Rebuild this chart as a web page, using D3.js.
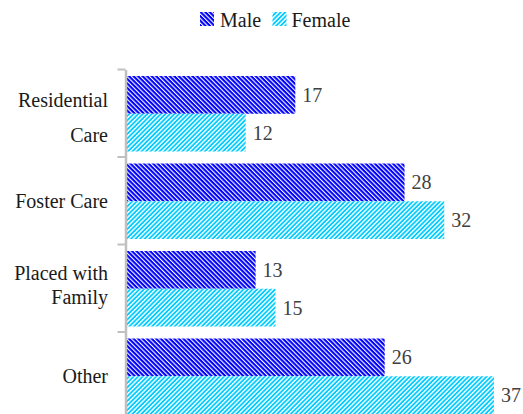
<!DOCTYPE html>
<html>
<head>
<meta charset="utf-8">
<script src="https://cdn.jsdelivr.net/npm/d3@7"></script>
<style>
  html, body { margin: 0; padding: 0; background: #fff; }
  svg { display: block; }
  svg text { font-family: "Liberation Serif", Tinos, serif !important; }
</style>
</head>
<body>
<svg id="fig" width="523" height="414"></svg>
<script>
// ---- data ----
const categories = ["Residential Care", "Foster Care", "Placed with Family", "Other"];
const categoryLines = [["Residential", "Care"], ["Foster Care"], ["Placed with", "Family"], ["Other"]];
const seriesNames = ["Male", "Female"];
const maleValues = [17, 28, 13, 26];
const femaleValues = [12, 32, 15, 37];
const xDomain = [0, 40];

// ---- layout / style ----
const plotLeft = 126.5, plotRight = 523.7;
const plotTop = 69.5, plotBottom = 419.5;
const lineGaps = [35, 0, 24, 0];
const lineShifts = [4, 0, -3, 0];
const fontSize = 20;
const FONT_STYLE = "font-family: \"Liberation Serif\", Tinos, serif !important; font-size: " + fontSize + "px;";

const svg = d3.select("#fig");
const defs = svg.append("defs");

function makePattern(id, bg, fg, angle, stripeW) {
  const p = defs.append("pattern")
    .attr("id", id).attr("patternUnits", "userSpaceOnUse")
    .attr("width", 3.2).attr("height", 3.2)
    .attr("patternTransform", `rotate(${angle})`);
  p.append("rect").attr("width", 3.2).attr("height", 3.2).attr("fill", bg);
  p.append("rect").attr("width", stripeW).attr("height", 3.2).attr("fill", fg);
}
makePattern("pMale", "#0000ff", "#ffffff", -45, 1.1);
makePattern("pFemale", "#00ccff", "#ffffff", 45, 1.4);

const fills = { Male: "url(#pMale)", Female: "url(#pFemale)" };

const x = d3.scaleLinear().domain(xDomain).range([plotLeft, plotRight]);
const y = d3.scaleBand().domain(categories).range([plotTop, plotBottom]).paddingInner(0).paddingOuter(0);
const yInner = d3.scaleBand().domain(seriesNames).range([6.5, y.bandwidth() - 5.5]);

const rows = categories.map((c, i) => ({ cat: c, lines: categoryLines[i], gap: lineGaps[i], shift: lineShifts[i], Male: maleValues[i], Female: femaleValues[i] }));

// bars
const g = svg.append("g");
rows.forEach(row => {
  seriesNames.forEach(s => {
    g.append("rect")
      .attr("x", x(0))
      .attr("y", y(row.cat) + yInner(s))
      .attr("width", x(row[s]) - x(0))
      .attr("height", yInner.bandwidth())
      .attr("fill", fills[s]);
    g.append("text")
      .attr("x", x(row[s]) + 7)
      .attr("y", y(row.cat) + yInner(s) + yInner.bandwidth() / 2)
      .attr("dy", "0.35em")
      .attr("style", FONT_STYLE)
      .attr("fill", "#404040")
      .text(row[s]);
  });
});

// axis
const yAxis = d3.axisLeft(y).tickValues([]).tickSizeOuter(0);
const axisG = svg.append("g").attr("transform", `translate(${plotLeft - 1},0)`).call(yAxis);
axisG.select(".domain").attr("stroke", "#c0c0c0").attr("stroke-width", 2.5);
const tickPos = categories.map(c => y(c)).concat([plotBottom]);
axisG.selectAll(".tk").data(tickPos).enter().append("line")
  .attr("class", "tk")
  .attr("x1", -8).attr("x2", 0)
  .attr("y1", d => d).attr("y2", d => d)
  .attr("stroke", "#c0c0c0").attr("stroke-width", 2);

// category labels
rows.forEach(row => {
  const cy = y(row.cat) + y.bandwidth() / 2 + row.shift;
  const n = row.lines.length;
  row.lines.forEach((ln, k) => {
    const off = (k - (n - 1) / 2) * row.gap;
    svg.append("text")
      .attr("x", 108)
      .attr("y", cy + off)
      .attr("dy", "0.35em")
      .attr("text-anchor", "end")
      .attr("style", FONT_STYLE)
      .attr("fill", "#1a1a1a")
      .text(ln);
  });
});

// legend
const legend = svg.append("g");
const legendItems = [{ name: "Male", sx: 200, tx: 220 }, { name: "Female", sx: 272.5, tx: 291.5 }];
legendItems.forEach(it => {
  legend.append("rect").attr("x", it.sx).attr("y", 12).attr("width", 14).attr("height", 14)
    .attr("fill", fills[it.name]);
  legend.append("text").attr("x", it.tx).attr("y", 26.5)
    .attr("style", FONT_STYLE)
    .attr("fill", "#1a1a1a").text(it.name);
});
</script>
</body>
</html>
